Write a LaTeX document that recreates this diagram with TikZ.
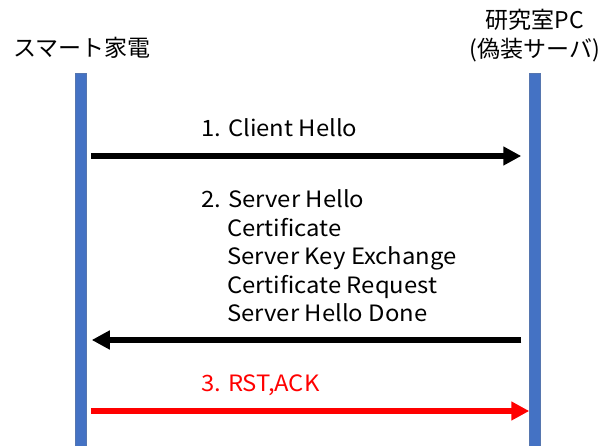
\documentclass[tikz,border=0pt]{standalone}
\usepackage{fontspec}
\setmainfont{Noto Sans CJK JP}
\newfontfamily\lblfont[FakeStretch=1.06]{Noto Sans CJK JP}
\usetikzlibrary{arrows.meta,calc}
\definecolor{barblue}{HTML}{4472C4}
\definecolor{msgred}{HTML}{FF0000}
\tikzset{
  lifeline/.style={fill=barblue, draw=barblue!70!gray, line width=0.5pt, inner sep=0pt, minimum width=11pt, minimum height=373pt},
  msg/.style={line width=6pt, -{Triangle[length=18pt,width=18pt]}},
  lbl/.style={anchor=base west, inner sep=0pt, font=\lblfont\fontsize{22.5}{28.5}\selectfont},
  head/.style={anchor=base, inner sep=0pt, align=center, font=\fontsize{23}{29}\selectfont},
}
\begin{document}
\begin{tikzpicture}[x=1pt,y=-1pt]
\useasboundingbox (0,0) rectangle (614,446);
\node[lifeline] (L) at (81,259.5) {};
\node[lifeline] (R) at (535,259.5) {};
\node[head] (hl) at (82,57) {スマート家電};
\node[head] (hr) at (535,58) {研究室PC\\(偽装サーバ)};
\coordinate (y1) at (0,156);
\coordinate (y2) at (0,340);
\coordinate (y3) at (0,411);
\draw[msg] ($(L.east |- y1)+(4,0)$) -- ($(R.west |- y1)+(-8,0)$);
\draw[msg] ($(R.west |- y2)+(-8,0)$) -- ($(L.east |- y2)+(5,0)$);
\draw[msg, msgred] ($(L.east |- y3)+(4,0)$) -- (R.west |- y3);
\node[lbl] (m1) at (201,137) {1. Client Hello};
\node[lbl, align=left] (m2) at (201,322) {2. Server Hello\\\hspace*{26pt}Certificate\\\hspace*{26pt}Server Key Exchange\\\hspace*{26pt}Certificate Request\\\hspace*{26pt}Server Hello Done};
\node[lbl, text=msgred] (m3) at (201,392) {3. RST,ACK};
\end{tikzpicture}
\end{document}
